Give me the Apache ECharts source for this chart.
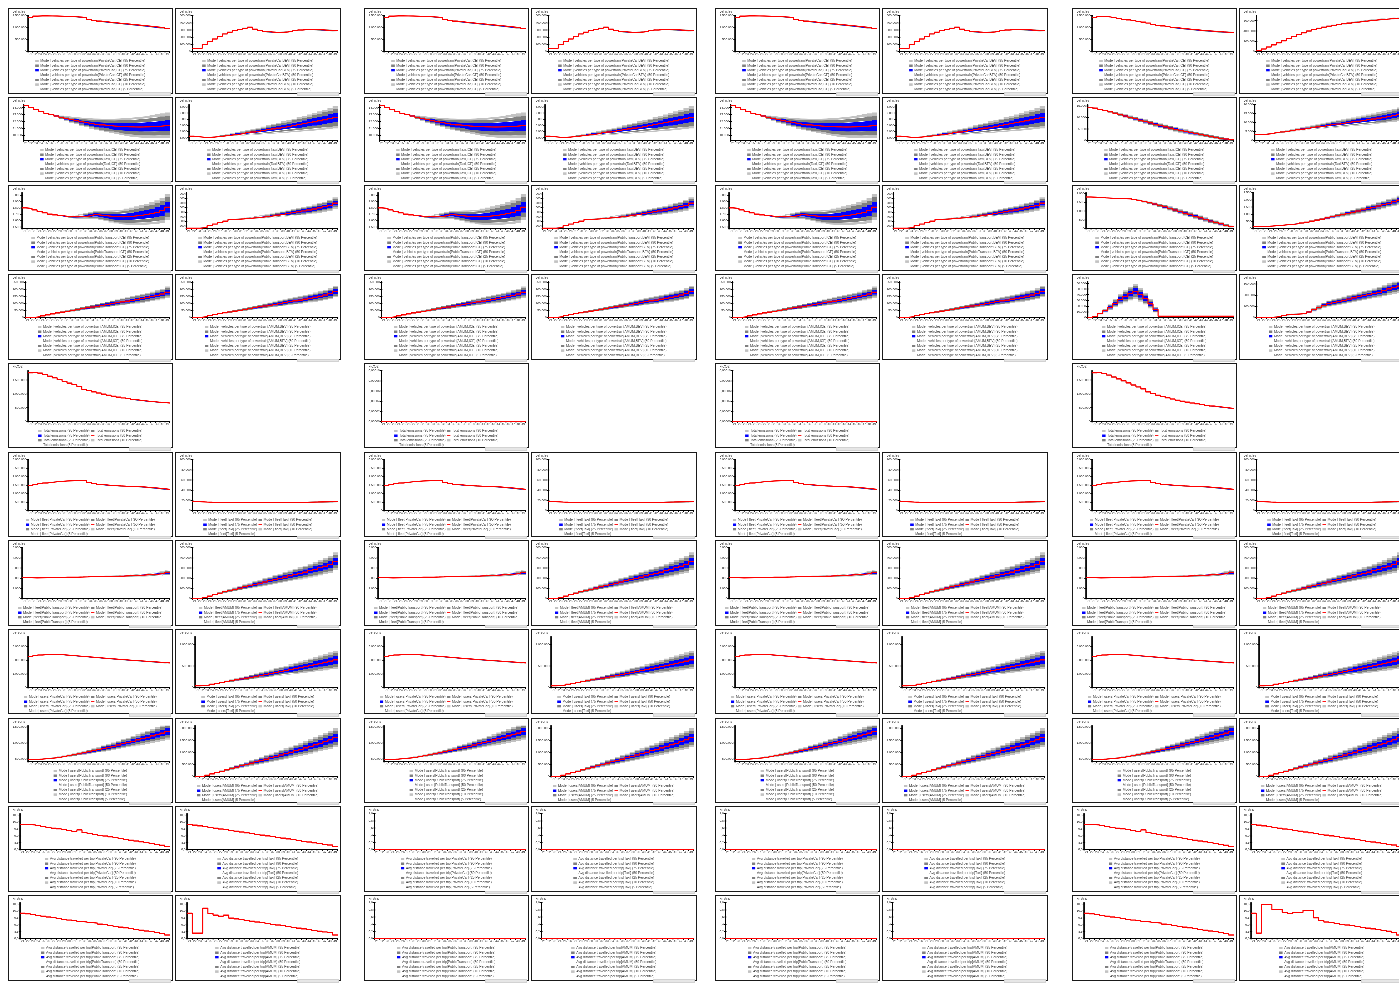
<!DOCTYPE html>
<html>
<head>
<meta charset="utf-8">
<title>Scenario dashboard</title>
<script src="https://cdn.jsdelivr.net/npm/echarts@6.0.0/dist/echarts.min.js"></script>
<style>
html, body { margin:0; padding:0; background:#fff; }
body { position:relative; width:1399px; height:984px; overflow:hidden; }
.panel { position:absolute; box-sizing:border-box; border:1.4px solid #1a1a1a; background:#fff; overflow:hidden; }
.chart { position:absolute; left:0; top:0; transform-origin:0 0; }
.credit { position:absolute; height:3.4px; background:#e6e6e6; border:0.5px solid #d2d2d2; box-sizing:border-box; }
</style>
</head>
<body>
<script>
// ---- categories (model years) ----
const YEARS = ['21','22','23','24','25','26','27','28','29','30','31','32','33','34','35','36','37','38','39','40','41','42','43','44','45','46','47','48','49'];
const PCTS = [95, 90, 75, 50, 25, 10, 5];

// ---- tick labels ----
const ticksCarIce = [0, 500000, 1000000, 1500000];
const ticksCarBev = [0, 100000, 200000, 300000, 400000, 500000];
const ticksCarBev4 = [0, 200000, 400000, 600000];
const ticksTaxiIce = [10000, 11000, 12000, 13000, 14000];
const ticksTaxiBev = [3000, 4000, 5000, 6000, 7000, 8000];
const ticksTaxi4 = [0, 5000, 10000, 15000, 20000];
const ticksPtIce = [1500, 1600, 1700, 1800, 1900, 2000];
const ticksPtBev = [200, 300, 400, 500, 600, 700, 800, 900];
const ticksPt4 = [0, 500, 1000, 1500, 2000, 2500];
const ticksAmum = [0, 50000, 100000, 150000, 200000, 250000];
const ticksAmumIce4 = [0, 10000, 20000, 30000, 40000, 50000, 60000];
const ticksAmumBev4 = [0, 100000, 200000, 300000];
const ticksEmis = [0, 500000, 1000000, 1500000];
const ticksZero = [0, 0.00002, 0.00004, 0.00006, 0.00008, 0.0001];
const ticksFleetCar = [0, 500000, 1000000, 1500000, 2000000, 2500000, 3000000];
const ticksFleetTaxi = [0, 20000, 40000, 60000, 80000, 100000];
const ticksFleetPt = [0, 1000, 2000, 3000, 4000, 5000];
const ticksFleetAmum = [0, 100000, 200000, 300000, 400000, 500000];
const ticksUsersCar = [0, 1000000, 2000000, 3000000];
const ticksUsersTaxi = [0, 500000, 1000000];
const ticksUsersPt = [500000, 1000000, 1500000];
const ticksUsersAmum = [0, 500000, 1000000, 1500000, 2000000];
const ticksDist = [8.0, 8.5, 9.0, 9.5, 10.0, 10.5];
const ticksDistEmpty = [0, 0.2, 0.4, 0.6, 0.8, 1.0];

// ---- medians (50 percentile) and half-width of the 5..95 percentile band ----
const carIceMed = [1420000,1480000,1486000,1486000,1485000,1482000,1478000,1470000,1461000,1450000,1438000,1420000,1338000,1300000,1272000,1248000,1224000,1203000,1182000,1162000,1142000,1122000,1102000,1082000,1061000,1040000,1015000,990000,960000];
const carIceBand = [6000,7000,8000,9000,10000,11000,12000,13000,14000,15000,16000,17000,18000,18000,19000,20000,21000,22000,22000,23000,24000,25000,26000,27000,28000,29000,30000,31000,32000];
const carBevMed = [46000,46000,100000,140000,175000,212000,245000,270000,292000,310000,325000,340000,312000,292000,280000,272000,268000,268000,272000,280000,290000,300000,306000,308000,306000,302000,298000,294000,290000];
const carBevBand = [2000,2000,3000,4000,5000,5000,6000,6000,7000,7000,8000,8000,8000,8000,8000,8000,8000,9000,9000,9000,9000,10000,10000,10000,10000,10000,11000,11000,11000];
const taxiIceMed = [14300,14000,13700,13450,13200,13000,12800,12600,12420,12250,12100,11950,11820,11700,11600,11500,11420,11350,11300,11260,11230,11210,11200,11210,11230,11260,11300,11370,11450];
const taxiIceBand = [0,0,0,0,50,100,180,260,340,420,500,580,660,740,820,900,980,1060,1140,1220,1300,1380,1460,1530,1600,1670,1740,1800,1860];
const taxiBevMed = [3250,3150,3080,3060,3100,3180,3280,3380,3480,3580,3680,3800,3920,4040,4160,4290,4420,4560,4700,4840,4980,5120,5270,5420,5570,5730,5900,6080,6300];
const taxiBevBand = [0,0,0,0,30,80,130,190,250,310,370,430,500,570,640,710,790,870,950,1030,1110,1190,1270,1350,1440,1530,1620,1710,1800];
const ptIceMed = [1800,1792,1768,1745,1722,1703,1690,1678,1668,1662,1660,1664,1670,1680,1692,1682,1674,1666,1662,1660,1664,1670,1678,1688,1700,1714,1732,1760,1812];
const ptIceBand = [0,0,0,0,0,0,0,0,5,15,25,35,45,55,65,75,85,95,105,115,125,135,145,155,165,175,185,195,205];
const ptBevMed = [150,150,152,165,205,240,272,305,340,345,352,362,372,383,395,408,422,437,453,470,488,507,527,548,570,594,620,648,700];
const ptBevBand = [0,0,0,0,0,0,0,0,5,10,15,20,26,32,38,44,50,56,62,68,74,80,86,92,98,104,110,118,125];
const amumIceMed = [0,2000,6000,12000,19000,26000,33000,39000,45000,51000,57000,63000,69000,75000,81000,87000,93000,99000,105000,111000,117000,123000,129000,136000,143000,150000,158000,167000,180000];
const amumIceBand = [0,300,800,1500,2500,3500,5000,6500,8000,9500,11000,12500,14000,15500,17000,18500,20000,21500,23000,24500,26000,27500,29000,30500,32000,34000,36000,38000,40000];
const amumBevMed = [0,2500,6500,13000,20000,27000,34000,40000,46000,52000,58000,64000,70000,76000,82000,88000,94000,100000,106000,112000,118000,124000,131000,138000,145000,152000,160000,170000,185000];
const amumBevBand = [0,300,900,1600,2600,3700,5000,6500,8000,9500,11000,12500,14000,15500,17000,18500,20000,21500,23000,24500,26000,27500,29000,30500,32500,34500,36500,38500,41000];
const emisMed = [1760000,1780000,1750000,1700000,1640000,1580000,1520000,1455000,1390000,1330000,1270000,1165000,1115000,1072000,1032000,992000,955000,918000,885000,853000,824000,797000,773000,752000,733000,716000,700000,685000,670000];
const emisBand = [10000,18000,20000,22000,22000,22000,22000,21000,21000,20000,20000,18000,17000,16000,15000,14000,13000,12000,12000,11000,11000,10000,10000,10000,9000,9000,9000,8000,8000];
const zeroMed = [0,0,0,0,0,0,0,0,0,0,0,0,0,0,0,0,0,0,0,0,0,0,0,0,0,0,0,0,0];
const fleetCarMed = [1466000,1526000,1585000,1625000,1660000,1694000,1723000,1740000,1752000,1760000,1763000,1760000,1652000,1592000,1550000,1517000,1488000,1468000,1452000,1440000,1430000,1420000,1406000,1388000,1366000,1342000,1313000,1284000,1250000];
const fleetCarBand = [8000,9000,10000,11000,12000,13000,14000,15000,16000,17000,18000,19000,20000,21000,22000,23000,24000,25000,26000,27000,28000,29000,30000,31000,32000,33000,34000,35000,36000];
const fleetTaxiMed = [17550,17150,16780,16510,16300,16180,16080,15980,15900,15830,15780,15750,15740,15740,15760,15790,15840,15910,16000,16100,16210,16330,16470,16630,16800,16990,17200,17450,17750];
const fleetTaxiBand = [0,0,0,0,20,50,90,130,180,230,290,350,420,490,570,650,740,830,930,1030,1140,1250,1370,1490,1620,1760,1900,2050,2200];
const fleetPtMed = [2050,2042,2030,2035,2042,2053,2070,2088,2100,2100,2104,2116,2130,2150,2172,2176,2180,2186,2197,2210,2230,2252,2278,2305,2336,2370,2408,2460,2538];
const fleetPtBand = [0,0,0,0,5,10,15,20,25,30,36,42,50,58,66,75,84,94,104,115,126,138,150,163,176,190,205,220,240];
const fleetAmumMed = [0,4500,12500,25000,39000,53000,67000,79000,91000,103000,115000,127000,139000,151000,163000,175000,187000,199000,211000,223000,235000,247000,260000,274000,288000,302000,318000,337000,365000];
const fleetAmumBand = [0,1000,2500,4500,7000,9500,12000,15000,18000,21000,24000,27000,30000,33000,36000,39000,42000,45500,49000,52500,56000,59500,63000,67000,71000,75000,79000,83000,88000];
const usersCarMed = [2270000,2330000,2385000,2415000,2430000,2430000,2412000,2385000,2356000,2326000,2296000,2266000,2236000,2206000,2176000,2147000,2118000,2090000,2062000,2035000,2010000,1985000,1960000,1935000,1910000,1885000,1860000,1832000,1805000];
const usersCarBand = [10000,12000,14000,15000,16000,17000,18000,19000,20000,21000,22000,23000,24000,25000,26000,27000,28000,29000,30000,31000,32000,33000,34000,35000,36000,37000,38000,39000,40000];
const usersTaxiMed = [40000,45000,60000,80000,100000,120000,140000,160000,180000,200000,220000,242000,264000,286000,308000,330000,352000,374000,396000,418000,440000,464000,488000,512000,537000,562000,588000,614000,640000];
const usersTaxiBand = [0,2000,5000,9000,13000,18000,23000,29000,35000,41000,48000,55000,62000,70000,78000,86000,94000,103000,112000,121000,130000,140000,150000,160000,170000,180000,190000,200000,212000];
const usersPtMed = [485000,488000,496000,507000,521000,538000,558000,580000,605000,632000,660000,690000,722000,755000,789000,824000,860000,897000,935000,974000,1013000,1053000,1094000,1135000,1177000,1219000,1262000,1306000,1360000];
const usersPtBand = [0,1000,3000,6000,10000,15000,20000,26000,33000,40000,48000,56000,65000,74000,84000,94000,105000,116000,127000,139000,151000,163000,176000,189000,202000,215000,228000,242000,256000];
const usersAmumMed = [0,20000,60000,110000,165000,222000,280000,338000,395000,450000,505000,560000,615000,670000,725000,782000,838000,895000,952000,1010000,1068000,1128000,1188000,1250000,1315000,1380000,1448000,1520000,1610000];
const usersAmumBand = [0,4000,10000,18000,27000,37000,48000,60000,72000,85000,98000,112000,126000,140000,155000,170000,185000,200000,216000,232000,248000,265000,282000,299000,316000,334000,352000,370000,390000];
const distCarMed = [9.82,9.80,9.78,9.72,9.66,9.60,9.55,9.50,9.45,9.38,9.32,9.42,9.22,9.16,9.10,9.04,8.98,8.92,8.86,8.80,8.74,8.68,8.62,8.56,8.50,8.44,8.38,8.32,8.24];
const distTaxiMed = [9.82,9.77,9.71,9.66,9.60,9.55,9.49,9.44,9.38,9.33,9.27,9.21,9.16,9.10,9.05,8.99,8.94,8.88,8.83,8.77,8.71,8.66,8.60,8.55,8.49,8.44,8.38,8.33,8.24];
const distPtMed = [9.84,9.79,9.73,9.68,9.62,9.56,9.51,9.45,9.40,9.34,9.29,9.23,9.20,9.15,9.12,9.05,9.00,8.94,8.89,8.83,8.78,8.72,8.66,8.61,8.55,8.50,8.44,8.38,8.26];
const distAmumMed = [9.84,8.40,8.40,10.20,9.82,9.70,9.62,9.70,9.48,9.42,9.37,9.31,9.26,9.20,9.15,9.09,9.04,8.98,8.93,8.87,8.82,8.76,8.70,8.65,8.59,8.54,8.48,8.42,8.26];
const distBand = [0.02,0.02,0.02,0.02,0.02,0.02,0.02,0.02,0.02,0.02,0.02,0.02,0.02,0.02,0.02,0.02,0.02,0.02,0.02,0.02,0.02,0.02,0.02,0.02,0.02,0.02,0.02,0.02,0.02];

// fourth scenario column (ICE phase-out)
const carIceMed4 = [1420000,1470000,1460000,1440000,1410000,1380000,1350000,1320000,1290000,1260000,1230000,1190000,1140000,1100000,1070000,1040000,1010000,985000,960000,940000,920000,900000,880000,865000,850000,835000,820000,808000,795000];
const carBevMed4 = [20000,50000,90000,130000,170000,210000,250000,290000,330000,365000,400000,430000,455000,475000,495000,512000,528000,542000,555000,568000,580000,592000,603000,613000,622000,630000,638000,645000,650000];
const carBevBand4 = [1000,2000,3000,4000,5000,6000,7000,8000,9000,10000,11000,12000,12000,13000,13000,14000,14000,15000,15000,16000,16000,17000,17000,18000,18000,19000,19000,20000,20000];
const taxiIceMed4 = [14300,14000,13500,13000,12400,11800,11200,10600,10000,9400,8800,8200,7600,7000,6400,5900,5400,4900,4400,3900,3400,3000,2600,2200,1800,1400,1000,700,400];
const taxiIceBand4 = [0,100,200,300,400,500,600,700,800,850,900,950,1000,1000,1000,1000,1000,1000,1000,950,900,850,800,750,700,650,600,500,400];
const taxiBevMed4 = [3250,3400,3700,4000,4400,4800,5200,5600,6000,6400,6800,7200,7600,8000,8400,8800,9200,9600,10000,10400,10800,11200,11600,12000,12500,13000,13500,14000,14600];
const taxiBevBand4 = [0,50,100,200,300,400,500,650,800,950,1100,1250,1400,1550,1700,1850,2000,2150,2300,2450,2600,2750,2900,3050,3200,3350,3500,3650,3800];
const ptIceMed4 = [1800,1790,1770,1750,1735,1720,1710,1700,1690,1650,1600,1540,1470,1400,1320,1240,1150,1060,970,880,790,700,610,520,430,350,270,190,120];
const ptIceBand4 = [0,0,0,0,0,0,0,0,10,25,40,55,70,85,100,110,120,130,135,140,140,140,135,130,120,110,100,80,60];
const ptBevMed4 = [150,150,160,180,210,240,270,300,340,390,450,520,590,660,740,820,900,980,1060,1140,1220,1300,1390,1480,1570,1660,1760,1860,1980];
const ptBevBand4 = [0,0,0,0,0,0,0,0,10,25,40,55,70,85,100,115,130,145,160,175,190,205,220,235,250,265,280,295,310];
const amumIceMed4 = [0,2000,7000,12000,18000,25000,32000,37000,42000,46000,40000,33000,24000,14000,2500,2500,2500,2500,2500,2500,2500,2500,2500,2500,2500,2500,2500,2500,2500];
const amumIceBand4 = [0,400,1500,3000,5000,7000,9000,10500,12000,13000,12000,10000,8000,5000,600,600,600,600,600,600,600,600,600,600,600,600,600,600,600];
const amumBevMed4 = [0,0,2000,5000,10000,18000,25000,30000,33000,36000,50000,70000,90000,110000,125000,135000,145000,155000,165000,175000,185000,195000,205000,215000,225000,240000,255000,268000,280000];
const amumBevBand4 = [0,0,200,600,1500,3000,4500,6000,7000,8000,11000,15000,19000,23000,26000,28000,30000,32000,34000,36000,38000,40000,42000,44000,46000,49000,52000,55000,58000];
const emisMed4 = [1760000,1780000,1740000,1680000,1610000,1540000,1470000,1395000,1320000,1250000,1180000,1070000,1010000,955000,905000,858000,815000,775000,738000,704000,672000,642000,614000,588000,563000,540000,518000,497000,477000];
const distAmumMed4 = [9.84,8.40,10.45,10.45,10.10,10.10,9.90,9.80,9.90,9.90,10.05,10.05,9.50,9.30,9.20,9.15,9.09,9.04,8.98,8.93,8.87,8.82,8.76,8.70,8.65,8.59,8.54,8.42,8.26];

// ---- look & feel ----
const S = 3;                          // charts are drawn at 3x and scaled down
const FONT = '"Liberation Sans", Arial, sans-serif';
const LIGHT = '#c2c2c2', MID = '#808080', BLUE = '#0000ff', RED = '#ff0000';
const R90 = 0.76, R75 = 0.42;         // inner percentiles as share of the 5..95 half-width
const LINE_ICON = 'path://M0,0L0,0M0,2.3L10,2.3L10,3.7L0,3.7ZM10,6L10,6';
const EDGES = YEARS.concat(['end']);  // category boundaries for the stepped series

const measureCtx = document.createElement('canvas').getContext('2d');
function textWidth(t, fs) { measureCtx.font = fs + 'px ' + FONT; return measureCtx.measureText(t).width; }

function fmt(v, dec) {
  const s = Math.abs(v).toFixed(dec);
  const parts = s.split('.');
  const ip = parts[0].replace(/\B(?=(\d{3})+(?!\d))/g, '.');
  return (v < 0 ? '-' : '') + ip + (parts[1] ? ',' + parts[1] : '');
}
// each value is held across its whole year: repeat the last one at the closing edge
function stepData(arr) { return arr.concat([arr[arr.length - 1]]); }

// ---- panel definitions: label, unit, axis ----
const MODE_PT = 'Mode | vehicles per type of powertrain';
const PANEL = {
  carIce:   { unit:'vehicles', base: MODE_PT + '[PrivateCar,ICE]', min:0, max:1500000, ticks:ticksCarIce, dec:0, cols:1 },
  carBev:   { unit:'vehicles', base: MODE_PT + '[PrivateCar,BEV]', min:0, max:500000, ticks:ticksCarBev, dec:0, cols:1 },
  taxiIce:  { unit:'vehicles', base: MODE_PT + '[Taxi,ICE]', min:9230, max:14450, ticks:ticksTaxiIce, dec:0, cols:1 },
  taxiBev:  { unit:'vehicles', base: MODE_PT + '[Taxi,BEV]', min:2530, max:8370, ticks:ticksTaxiBev, dec:0, cols:1 },
  ptIce:    { unit:'vehicles', base: MODE_PT + '[PublicTransport,ICE]', min:1475, max:2040, ticks:ticksPtIce, dec:0, cols:1 },
  ptBev:    { unit:'vehicles', base: MODE_PT + '[PublicTransport,BEV]', min:140, max:930, ticks:ticksPtBev, dec:0, cols:1 },
  amumIce:  { unit:'vehicles', base: MODE_PT + '[AMUM,ICE]', min:0, max:255000, ticks:ticksAmum, dec:0, cols:1 },
  amumBev:  { unit:'vehicles', base: MODE_PT + '[AMUM,BEV]', min:0, max:255000, ticks:ticksAmum, dec:0, cols:1 },
  emis:     { unit:'ktCO2', base:'Total emissions', min:0, max:1840000, ticks:ticksEmis, dec:0, cols:2 },
  fleetCar: { unit:'vehicles', base:'Mode | fleet[PrivateCar]', min:0, max:3000000, ticks:ticksFleetCar, dec:0, cols:2 },
  fleetTaxi:{ unit:'vehicles', base:'Mode | fleet[Taxi]', min:0, max:100000, ticks:ticksFleetTaxi, dec:0, cols:2 },
  fleetPt:  { unit:'vehicles', base:'Mode | fleet[PublicTransport]', min:0, max:5000, ticks:ticksFleetPt, dec:0, cols:2 },
  fleetAmum:{ unit:'vehicles', base:'Mode | fleet[AMUM]', min:0, max:500000, ticks:ticksFleetAmum, dec:0, cols:2 },
  usersCar: { unit:'persons', base:'Mode | users[PrivateCar]', min:0, max:3730000, ticks:ticksUsersCar, dec:0, cols:2 },
  usersTaxi:{ unit:'persons', base:'Mode | users[Taxi]', min:0, max:1180000, ticks:ticksUsersTaxi, dec:0, cols:2 },
  usersPt:  { unit:'persons', base:'Mode | users[PublicTransport]', min:417000, max:1540000, ticks:ticksUsersPt, dec:0, cols:1 },
  usersAmum:{ unit:'persons', base:'Mode | users[AMUM]', min:0, max:2110000, ticks:ticksUsersAmum, dec:0, cols:2 },
  distCar:  { unit:'km/trip', base:'Avg distance travelled per trip[PrivateCar]', min:8.0, max:10.6, ticks:ticksDist, dec:1, cols:1 },
  distTaxi: { unit:'km/trip', base:'Avg distance travelled per trip[Taxi]', min:8.0, max:10.6, ticks:ticksDist, dec:1, cols:1 },
  distPt:   { unit:'km/trip', base:'Avg distance travelled per trip[PublicTransport]', min:8.0, max:10.6, ticks:ticksDist, dec:1, cols:1 },
  distAmum: { unit:'km/trip', base:'Avg distance travelled per trip[AMUM]', min:8.0, max:10.6, ticks:ticksDist, dec:1, cols:1 }
};

// series values per panel
const VALUES = {
  carIce:[carIceMed, carIceBand], carBev:[carBevMed, carBevBand], taxiIce:[taxiIceMed, taxiIceBand], taxiBev:[taxiBevMed, taxiBevBand],
  ptIce:[ptIceMed, ptIceBand], ptBev:[ptBevMed, ptBevBand], amumIce:[amumIceMed, amumIceBand], amumBev:[amumBevMed, amumBevBand],
  emis:[emisMed, emisBand],
  fleetCar:[fleetCarMed, fleetCarBand], fleetTaxi:[fleetTaxiMed, fleetTaxiBand], fleetPt:[fleetPtMed, fleetPtBand], fleetAmum:[fleetAmumMed, fleetAmumBand],
  usersCar:[usersCarMed, usersCarBand], usersTaxi:[usersTaxiMed, usersTaxiBand], usersPt:[usersPtMed, usersPtBand], usersAmum:[usersAmumMed, usersAmumBand],
  distCar:[distCarMed, distBand], distTaxi:[distTaxiMed, distBand], distPt:[distPtMed, distBand], distAmum:[distAmumMed, distBand]
};
// fourth column: own values and axes where they differ
const VALUES4 = {
  carIce:[carIceMed4, carIceBand], carBev:[carBevMed4, carBevBand4], taxiIce:[taxiIceMed4, taxiIceBand4], taxiBev:[taxiBevMed4, taxiBevBand4],
  ptIce:[ptIceMed4, ptIceBand4], ptBev:[ptBevMed4, ptBevBand4], amumIce:[amumIceMed4, amumIceBand4], amumBev:[amumBevMed4, amumBevBand4],
  emis:[emisMed4, emisBand], distAmum:[distAmumMed4, distBand]
};
const AXES4 = {
  carBev:{ min:0, max:700000, ticks:ticksCarBev4 },
  taxiIce:{ min:0, max:15500, ticks:ticksTaxi4.slice(0, 4) },
  taxiBev:{ min:0, max:20000, ticks:ticksTaxi4 },
  ptIce:{ min:0, max:2050, ticks:ticksPt4.slice(0, 5) },
  ptBev:{ min:0, max:2500, ticks:ticksPt4 },
  amumIce:{ min:0, max:63000, ticks:ticksAmumIce4 },
  amumBev:{ min:0, max:320000, ticks:ticksAmumBev4 }
};

// ---- scenario columns and panel rows ----
const GROUP_X = [8, 364, 715, 1072];
const ROWS = [
  ['carIce', 'carBev'], ['taxiIce', 'taxiBev'], ['ptIce', 'ptBev'], ['amumIce', 'amumBev'], ['emis', null],
  ['fleetCar', 'fleetTaxi'], ['fleetPt', 'fleetAmum'], ['usersCar', 'usersTaxi'], ['usersPt', 'usersAmum'],
  ['distCar', 'distTaxi'], ['distPt', 'distAmum']
];

function resolve(key, g) {
  const meta = Object.assign({}, PANEL[key]);
  let vals = VALUES[key];
  if ((g === 1 || g === 2) && key === 'emis') {
    meta.max = 0.0001; meta.ticks = ticksZero; meta.dec = 5; vals = [zeroMed, zeroMed];
  }
  if ((g === 1 || g === 2) && key.indexOf('dist') === 0) {
    meta.min = 0; meta.max = 1.0; meta.ticks = ticksDistEmpty; vals = [zeroMed, zeroMed];
  }
  if (g === 3) {
    if (VALUES4[key]) vals = VALUES4[key];
    if (AXES4[key]) Object.assign(meta, AXES4[key]);
  }
  meta.med = vals[0]; meta.band = vals[1];
  return meta;
}

function buildPanel(px, py, pw, ph, spec) {
  const BW = 1.4;
  const box = document.createElement('div');
  box.className = 'panel';
  box.style.left = px + 'px'; box.style.top = py + 'px';
  box.style.width = pw + 'px'; box.style.height = ph + 'px';
  document.body.appendChild(box);

  const credit = document.createElement('div');
  credit.className = 'credit';
  credit.style.left = (px + pw - 44) + 'px'; credit.style.top = (py + ph - 1.2) + 'px'; credit.style.width = '42px';
  document.body.appendChild(credit);

  const iw = pw - 2 * BW, ih = ph - 2 * BW;
  const el = document.createElement('div');
  el.className = 'chart';
  el.style.width = iw * S + 'px'; el.style.height = ih * S + 'px';
  el.style.transform = 'scale(' + (1 / S) + ')';
  box.appendChild(el);

  const AX = 3.1 * S, LG = 3.4 * S, TT = 3.5 * S;
  const labelW = Math.max.apply(null, spec.ticks.map(t => textWidth(fmt(t, spec.dec), AX)));
  const axisY = spec.cols === 1 ? 44 : 59;
  const legendTop = spec.cols === 1 ? 51.6 : 66.6;

  const n = p => spec.base + ' (' + p + ' Percentile)';
  const lo = spec.med.map((m, i) => m - spec.band[i]);
  const dOuter = spec.band.map(b => b * (1 - R90));
  const dMid = spec.band.map(b => b * (R90 - R75));
  const dInner = spec.band.map(b => 2 * b * R75);
  const layer = (name, arr, color, fill) => ({
    name, type: 'line', xAxisIndex: 1, yAxisIndex: 0, step: 'end', stack: 'pct', stackStrategy: 'all',
    data: stepData(arr), symbol: 'none', silent: true, animation: false,
    lineStyle: { width: 0, opacity: 0 }, itemStyle: { color },
    areaStyle: fill ? { color, opacity: 1 } : undefined
  });
  const yBase = {
    type: 'value', min: spec.min, max: spec.max, position: 'left', splitLine: { show: false }
  };

  const chart = echarts.init(el, null, { renderer: 'canvas', width: iw * S, height: ih * S });
  chart.setOption({
    animation: false,
    textStyle: { fontFamily: FONT },
    title: { text: spec.unit, left: (5 - BW) * S, top: (2.2 - BW) * S, padding: 0,
      textStyle: { fontSize: TT, fontWeight: 'normal', color: '#444', fontFamily: FONT } },
    grid: { left: (4.6 - BW) * S + labelW + 1.8 * S, right: 1.8 * S, top: (8 - BW) * S,
      bottom: ih * S - (axisY - BW) * S },
    legend: {
      data: PCTS.map(p => ({ name: n(p), icon: p === 50 ? LINE_ICON : 'rect' })),
      orient: spec.cols === 1 ? 'vertical' : 'horizontal',
      left: 'center', top: (legendTop - BW) * S, width: spec.cols === 1 ? 'auto' : (iw - 14) * S,
      padding: 0, itemWidth: 3.4 * S, itemHeight: 2.2 * S, itemGap: 1.4 * S,
      selectedMode: false, itemStyle: { borderWidth: 0 },
      textStyle: { fontSize: LG, color: '#4a4a4a', lineHeight: 3.2 * S, fontFamily: FONT }
    },
    xAxis: [
      { type: 'category', data: YEARS, boundaryGap: true,
        axisLine: { show: true, onZero: false, lineStyle: { color: '#000', width: 1.3 * S } },
        axisTick: { show: true, interval: 0, alignWithLabel: false, length: 1.5 * S, lineStyle: { color: '#000', width: 0.8 * S } },
        axisLabel: { interval: 0, fontSize: AX, color: '#444', margin: 1.1 * S, fontFamily: FONT },
        splitLine: { show: false } },
      { type: 'category', data: EDGES, boundaryGap: false, show: false }
    ],
    yAxis: [
      Object.assign({}, yBase, {
        axisLine: { show: true, onZero: false, lineStyle: { color: '#000', width: 1.3 * S } },
        axisTick: { show: true, customValues: spec.ticks, length: 1.4 * S, lineStyle: { color: '#000', width: 0.8 * S } },
        axisLabel: { customValues: spec.ticks, formatter: v => fmt(v, spec.dec), fontSize: AX, color: '#444', margin: 1.5 * S, fontFamily: FONT }
      }),
      // the same ticks drawn into the plot so they cross the axis line
      Object.assign({}, yBase, {
        axisLine: { show: false, onZero: false },
        axisTick: { show: true, inside: true, customValues: spec.ticks, length: 1.2 * S, lineStyle: { color: '#000', width: 0.8 * S } },
        axisLabel: { show: false }
      })
    ],
    series: [
      layer(n(5), lo, '#ffffff', false),
      layer(n(10), dOuter, LIGHT, true),
      layer(n(25), dMid, MID, true),
      layer(n(75), dInner, BLUE, true),
      layer(n(90), dMid, MID, true),
      layer(n(95), dOuter, LIGHT, true),
      { name: n(50), type: 'line', xAxisIndex: 1, yAxisIndex: 0, step: 'end', data: stepData(spec.med), symbol: 'none',
        silent: true, animation: false, z: 5, lineStyle: { color: RED, width: 1.15 * S }, itemStyle: { color: RED } }
    ]
  });
}

const PANEL_H = 85.6, ROW_PITCH = 88.7, LEFT_W = 165, RIGHT_DX = 167, RIGHT_W = 166;
GROUP_X.forEach((gx, g) => {
  ROWS.forEach((pair, r) => {
    const y = 8 + r * ROW_PITCH;
    if (pair[0]) buildPanel(gx, y, LEFT_W, PANEL_H, resolve(pair[0], g));
    if (pair[1]) buildPanel(gx + RIGHT_DX, y, RIGHT_W, PANEL_H, resolve(pair[1], g));
  });
});
</script>
</body>
</html>
